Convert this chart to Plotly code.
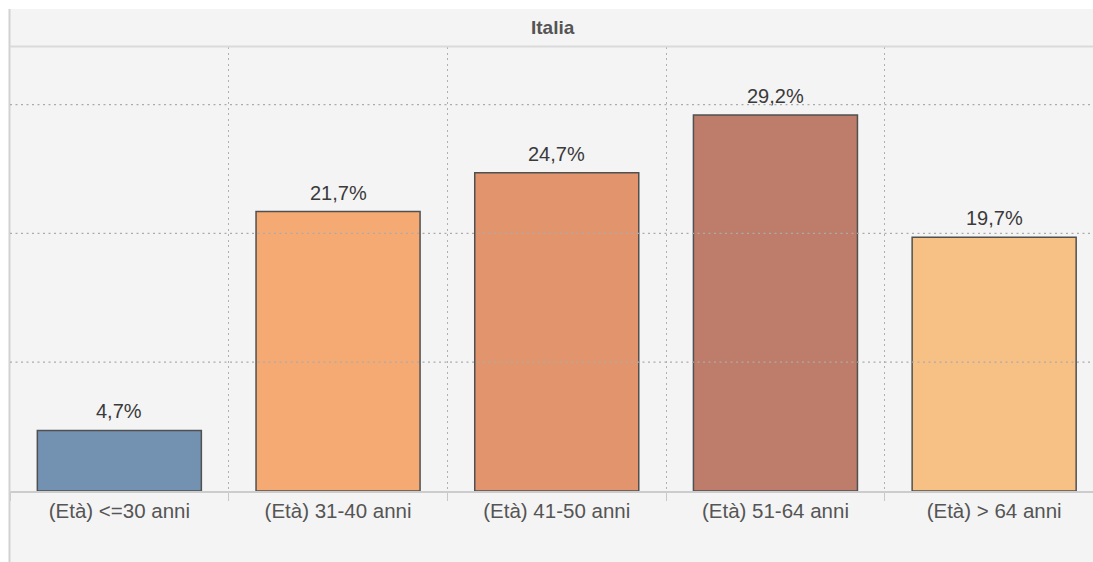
import plotly.graph_objects as go

categories = ["(Età) <=30 anni", "(Età) 31-40 anni", "(Età) 41-50 anni", "(Età) 51-64 anni", "(Età) > 64 anni"]
values = [4.7, 21.7, 24.7, 29.2, 19.7]
colors = ["#7391b0", "#f4aa72", "#e2946c", "#bd7d6a", "#f7c186"]
grid_values = [10, 20, 30]
panel_title = "Italia"

W, H = 1093, 562
ML, MR, MT, MB = 10, 0, 47, 71
PW = W - ML - MR
PH = H - MT - MB
cat_px = 218.7
px_per_unit = 12.88
FONT = "Liberation Sans, Arial, sans-serif"
DOT = "2px,3.5px"

fig = go.Figure()
fig.add_trace(go.Bar(
    x=categories, y=values,
    marker=dict(color=colors, line=dict(color="#505050", width=1.5)),
    width=0.75, hoverinfo="skip",
))

for c, v in zip(categories, values):
    fig.add_annotation(
        x=c, y=v, text=f"{v:.1f}".replace(".", ",") + "%",
        showarrow=False, yanchor="bottom", yshift=6,
        font=dict(family=FONT, size=20, color="#3a3a3a"),
    )

fig.add_annotation(
    xref="paper", yref="paper", x=0.5 + 1.5 / PW, y=1 + 20 / PH,
    text="<b>" + panel_title + "</b>", showarrow=False, yanchor="middle",
    font=dict(family=FONT, size=19, color="#555555"),
)

shapes = []
# white outer margins
shapes.append(dict(type="rect", xref="paper", yref="paper", x0=-ML / PW, x1=1.02,
                   y0=1 + 38 / PH, y1=1 + (MT + 5) / PH, fillcolor="white", line_width=0, layer="above"))
shapes.append(dict(type="rect", xref="paper", yref="paper", x0=-(ML + 5) / PW, x1=-1 / PW,
                   y0=-(MB + 5) / PH, y1=1 + (MT + 5) / PH, fillcolor="white", line_width=0, layer="above"))
# left border
shapes.append(dict(type="line", xref="paper", yref="paper", x0=-0.5 / PW, x1=-0.5 / PW,
                   y0=-(MB + 5) / PH, y1=1 + 38 / PH, line=dict(color="#d2d2d2", width=2), layer="above"))
# header bottom line
shapes.append(dict(type="line", xref="paper", yref="paper", x0=0, x1=1,
                   y0=1 + 0.5 / PH, y1=1 + 0.5 / PH, line=dict(color="#dadada", width=2), layer="above"))
# horizontal dotted gridlines above bars
for gv in grid_values:
    shapes.append(dict(type="line", xref="paper", yref="y", x0=0, x1=1, y0=gv, y1=gv,
                       line=dict(color="#ababab", width=1.3, dash=DOT), layer="above"))

fig.update_layout(
    width=W, height=H,
    margin=dict(l=ML, r=MR, t=MT, b=MB),
    paper_bgcolor="#f4f4f4", plot_bgcolor="#f4f4f4",
    showlegend=False, bargap=0.25,
    shapes=shapes,
    font=dict(family=FONT),
    xaxis=dict(
        type="category", range=[-0.5, -0.5 + PW / cat_px],
        tickson="boundaries", ticks="outside", ticklen=8, tickcolor="#c8c8c8", tickwidth=1,
        showgrid=True, gridcolor="#b0b0b0", gridwidth=1.3, griddash=DOT,
        showline=True, linecolor="#cccccc", linewidth=2,
        tickfont=dict(size=20.5, color="#555555"),
        fixedrange=True,
    ),
    yaxis=dict(
        range=[0, PH / px_per_unit], showgrid=False, showticklabels=False,
        zeroline=False, showline=False, ticks="", fixedrange=True,
    ),
)

fig.write_html(
    "out.html",
    config={"displayModeBar": False},
    post_script="document.body.style.margin='0';document.body.style.overflow='hidden';",
)
